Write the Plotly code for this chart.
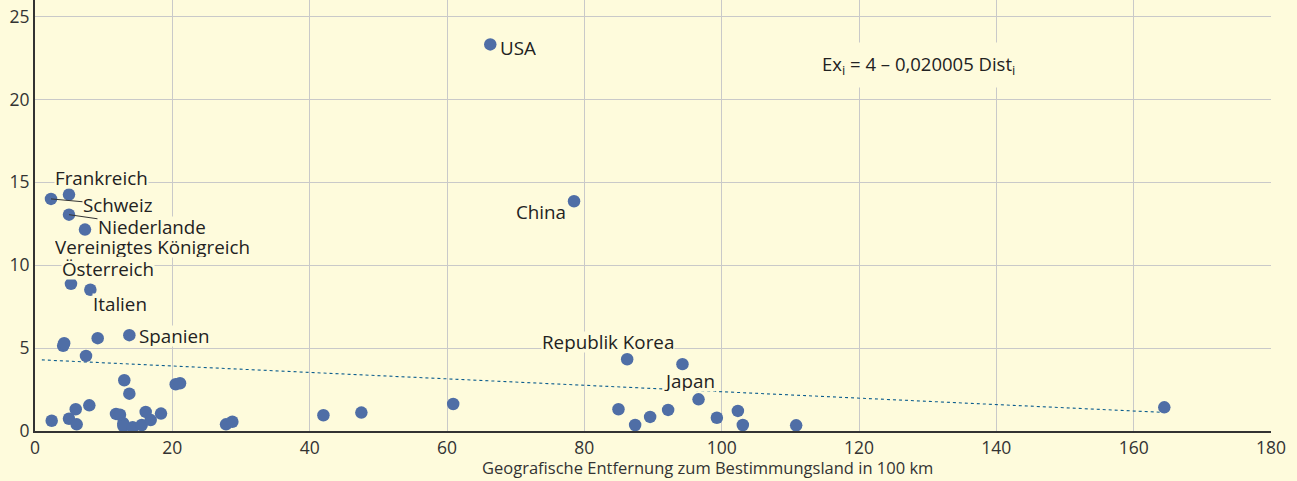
import plotly.graph_objects as go

# Data
dist = [66.3, 78.5, 4.95, 2.33, 4.95, 7.28, 5.24, 8.06, 13.74, 9.13, 4.1, 4.25, 7.43,
        2.43, 4.95, 6.07, 5.93, 7.91, 13.0, 13.74, 11.8, 12.38, 12.87, 12.87, 14.23,
        15.54, 16.12, 16.85, 18.35, 20.49, 21.12, 27.82, 28.74, 42.0, 47.53, 60.9,
        86.24, 94.29, 96.63, 84.97, 87.4, 89.58, 92.2, 99.3, 102.36, 103.08, 110.85, 164.46]
exports = [23.32, 13.86, 14.26, 14.0, 13.05, 12.15, 8.88, 8.52, 5.78, 5.6, 5.14, 5.3, 4.53,
           0.62, 0.74, 0.40, 1.31, 1.55, 3.06, 2.25, 1.03, 0.98, 0.46, 0.30, 0.22,
           0.36, 1.15, 0.66, 1.05, 2.82, 2.88, 0.40, 0.56, 0.95, 1.11, 1.63,
           4.33, 4.03, 1.91, 1.31, 0.36, 0.85, 1.27, 0.80, 1.21, 0.36, 0.34, 1.43]

trend_x = [1.0, 164.5]
trend_y = [4.29, 1.12]

x_ticks = [0, 20, 40, 60, 80, 100, 120, 140, 160, 180]
y_ticks = [0, 5, 10, 15, 20, 25]

# label: (text, point index, xshift, yshift (up positive), xanchor, leader line)
labels = [
    ("USA", 0, 9, -4, "left", False),
    ("China", 1, -7, -11, "right", False),
    ("Frankreich", 2, 33, 17, "center", False),
    ("Schweiz", 3, 67, -6, "center", True),
    ("Niederlande", 4, 83, -12, "center", True),
    ("Vereinigtes Königreich", 5, 68, -17, "center", False),
    ("Österreich", 6, 37, 15, "center", False),
    ("Italien", 7, 30, -14, "center", False),
    ("Spanien", 8, 9, -1, "left", False),
    ("Republik Korea", 36, -19, 17, "center", False),
    ("Japan", 37, 7, -17, "center", False),
]

BG = "#FEFBDC"
FONT = "Open Sans"
LBL = 18.8

fig = go.Figure()
fig.add_trace(go.Scatter(x=trend_x, y=trend_y, mode="lines",
                         line=dict(color="#0D5E8E", width=1.1, dash="dot"),
                         hoverinfo="skip"))
fig.add_trace(go.Scatter(x=dist, y=exports, mode="markers",
                         marker=dict(color="#4F6EA6", size=12.5, line=dict(width=0))))

for text, i, xs, ys, xa, arrow in labels:
    if arrow:
        fig.add_annotation(x=dist[i], y=exports[i], text=text, showarrow=True,
                           arrowhead=0, arrowwidth=1, arrowcolor="#333333",
                           ax=xs, ay=-ys, standoff=0, height=20,
                           font=dict(family=FONT, size=LBL, color="#222222"),
                           bgcolor=BG, borderpad=0)
    else:
        fig.add_annotation(x=dist[i], y=exports[i], text=text, showarrow=False,
                           xanchor=xa, xshift=xs, yshift=ys, height=20,
                           font=dict(family=FONT, size=LBL, color="#222222"),
                           bgcolor=BG, borderpad=0)

fig.add_annotation(x=0.715, y=0.85, xref="paper", yref="paper",
                   xanchor="center", yanchor="middle",
                   text="Ex<sub>i</sub> = 4 – 0,020005 Dist<sub>i</sub>",
                   showarrow=False, bgcolor=BG, borderpad=8,
                   font=dict(family=FONT, size=18.5, color="#222222"))

fig.add_annotation(x=0.544, y=-0.084, xref="paper", yref="paper", yanchor="middle",
                   text="Geografische Entfernung zum Bestimmungsland in 100 km",
                   showarrow=False, font=dict(family=FONT, size=16.5, color="#333333"))

fig.update_layout(
    width=1297, height=481,
    margin=dict(l=35, r=26, t=0, b=50),
    paper_bgcolor=BG, plot_bgcolor=BG,
    showlegend=False,
    font=dict(family=FONT, color="#333333"),
)
fig.update_xaxes(range=[0, 180], tickvals=x_ticks, showgrid=True, gridcolor="#C9C9C9",
                 gridwidth=1, zeroline=False, showline=True, linecolor="#333333",
                 linewidth=2, tickfont=dict(size=17.5, color="#333333"), ticks="",
                 automargin=False)
fig.update_yaxes(range=[0, 26], tickvals=y_ticks, showgrid=True, gridcolor="#C9C9C9",
                 gridwidth=1, zeroline=False, showline=True, linecolor="#333333",
                 linewidth=2, tickfont=dict(size=17.5, color="#333333"), ticks="",
                 automargin=False)

fig.write_html("out.html", config={"displayModeBar": False},
               post_script="document.body.style.margin='0';document.body.style.background='%s';" % BG)
